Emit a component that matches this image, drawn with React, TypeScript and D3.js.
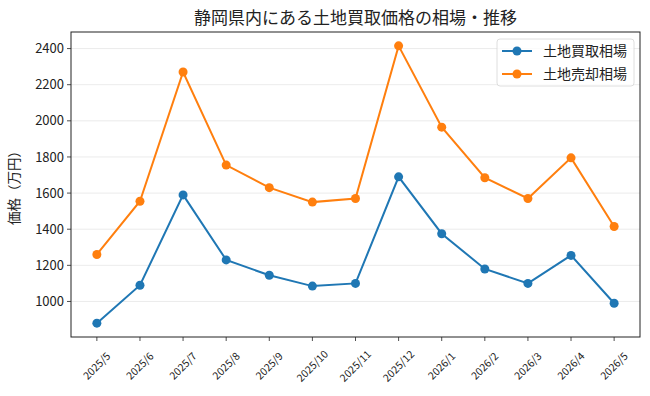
import React from 'react';
import * as d3 from 'd3';

const months = [
  '2025/5', '2025/6', '2025/7', '2025/8', '2025/9', '2025/10', '2025/11',
  '2025/12', '2026/1', '2026/2', '2026/3', '2026/4', '2026/5',
];
const buyPrices = [880, 1090, 1590, 1230, 1145, 1085, 1100, 1690, 1375, 1180, 1100, 1255, 990];
const sellPrices = [1260, 1555, 2270, 1755, 1630, 1550, 1570, 2415, 1965, 1685, 1570, 1795, 1415];
const yTicks = [1000, 1200, 1400, 1600, 1800, 2000, 2200, 2400];

const series = [
  { name: '土地買取相場', values: buyPrices, color: '#1f77b4' },
  { name: '土地売却相場', values: sellPrices, color: '#ff7f0e' },
];

const width = 650;
const height = 396;
const margin = { top: 32, right: 10, bottom: 59, left: 71 };
const font = '"Noto Sans CJK JP", "Noto Sans", sans-serif';

const App = () => {
  const innerW = width - margin.left - margin.right;
  const innerH = height - margin.top - margin.bottom;

  // matplotlib-style 5% padding on both axes
  const xPad = (months.length - 1) * 0.05;
  const x = d3.scaleLinear()
    .domain([-xPad, months.length - 1 + xPad])
    .range([margin.left, margin.left + innerW]);

  const all = [...buyPrices, ...sellPrices];
  const [lo, hi] = d3.extent(all) as [number, number];
  const yPad = (hi - lo) * 0.05;
  const y = d3.scaleLinear()
    .domain([lo - yPad, hi + yPad])
    .range([margin.top + innerH, margin.top]);

  const line = d3.line<number>()
    .x((_, i) => x(i))
    .y(d => y(d));

  const bottom = margin.top + innerH;
  const right = margin.left + innerW;

  return (
    <svg
      width={width}
      height={height}
      style={{ position: 'absolute', left: 0, top: 0, background: '#fff' }}
      fontFamily={font}
    >
      <rect x={0} y={0} width={width} height={height} fill="#fff" />
      <text x={(margin.left + right) / 2} y={24} textAnchor="middle" fontSize={17} fill="#222">
        静岡県内にある土地買取価格の相場・推移
      </text>

      {yTicks.map(t => (
        <g key={t}>
          <line x1={margin.left} x2={right} y1={y(t)} y2={y(t)} stroke="#e6e6e6" strokeWidth={0.8} />
          <line x1={margin.left - 4} x2={margin.left} y1={y(t)} y2={y(t)} stroke="#222" strokeWidth={0.8} />
          <text x={margin.left - 7} y={y(t)} dy="0.35em" textAnchor="end" fontSize={13} fill="#222">
            {t}
          </text>
        </g>
      ))}

      {months.map((m, i) => (
        <g key={m}>
          <line x1={x(i)} x2={x(i)} y1={bottom} y2={bottom + 4} stroke="#222" strokeWidth={0.8} />
          {/* rotated label, its bounding box centred under the tick */}
          <text
            transform={`translate(${x(i)},${bottom + 29}) rotate(-45)`}
            textAnchor="middle"
            dy="0.35em"
            fontSize={10.5}
            fill="#222"
          >
            {m}
          </text>
        </g>
      ))}

      <text
        transform={`translate(19,${(margin.top + bottom) / 2}) rotate(-90)`}
        textAnchor="middle"
        fontSize={13.5}
        fill="#222"
      >
        価格（万円）
      </text>

      {series.map(s => (
        <g key={s.name}>
          <path d={line(s.values) ?? ''} fill="none" stroke={s.color} strokeWidth={2} />
          {s.values.map((v, i) => (
            <circle key={i} cx={x(i)} cy={y(v)} r={4.5} fill={s.color} />
          ))}
        </g>
      ))}

      <rect x={margin.left} y={margin.top} width={innerW} height={innerH} fill="none" stroke="#222" strokeWidth={1} />

      <g transform={`translate(497,39)`}>
        <rect x={0} y={0} width={137} height={47} rx={3} fill="#fff" fillOpacity={0.8} stroke="#d6d6d6" strokeWidth={0.8} />
        {series.map((s, i) => (
          <g key={s.name} transform={`translate(0,${12 + i * 23})`}>
            <line x1={5} x2={35} y1={0} y2={0} stroke={s.color} strokeWidth={2} />
            <circle cx={20} cy={0} r={4.5} fill={s.color} />
            <text x={46} y={0} dy="0.35em" fontSize={14} fill="#222">{s.name}</text>
          </g>
        ))}
      </g>
    </svg>
  );
};

export default App;
